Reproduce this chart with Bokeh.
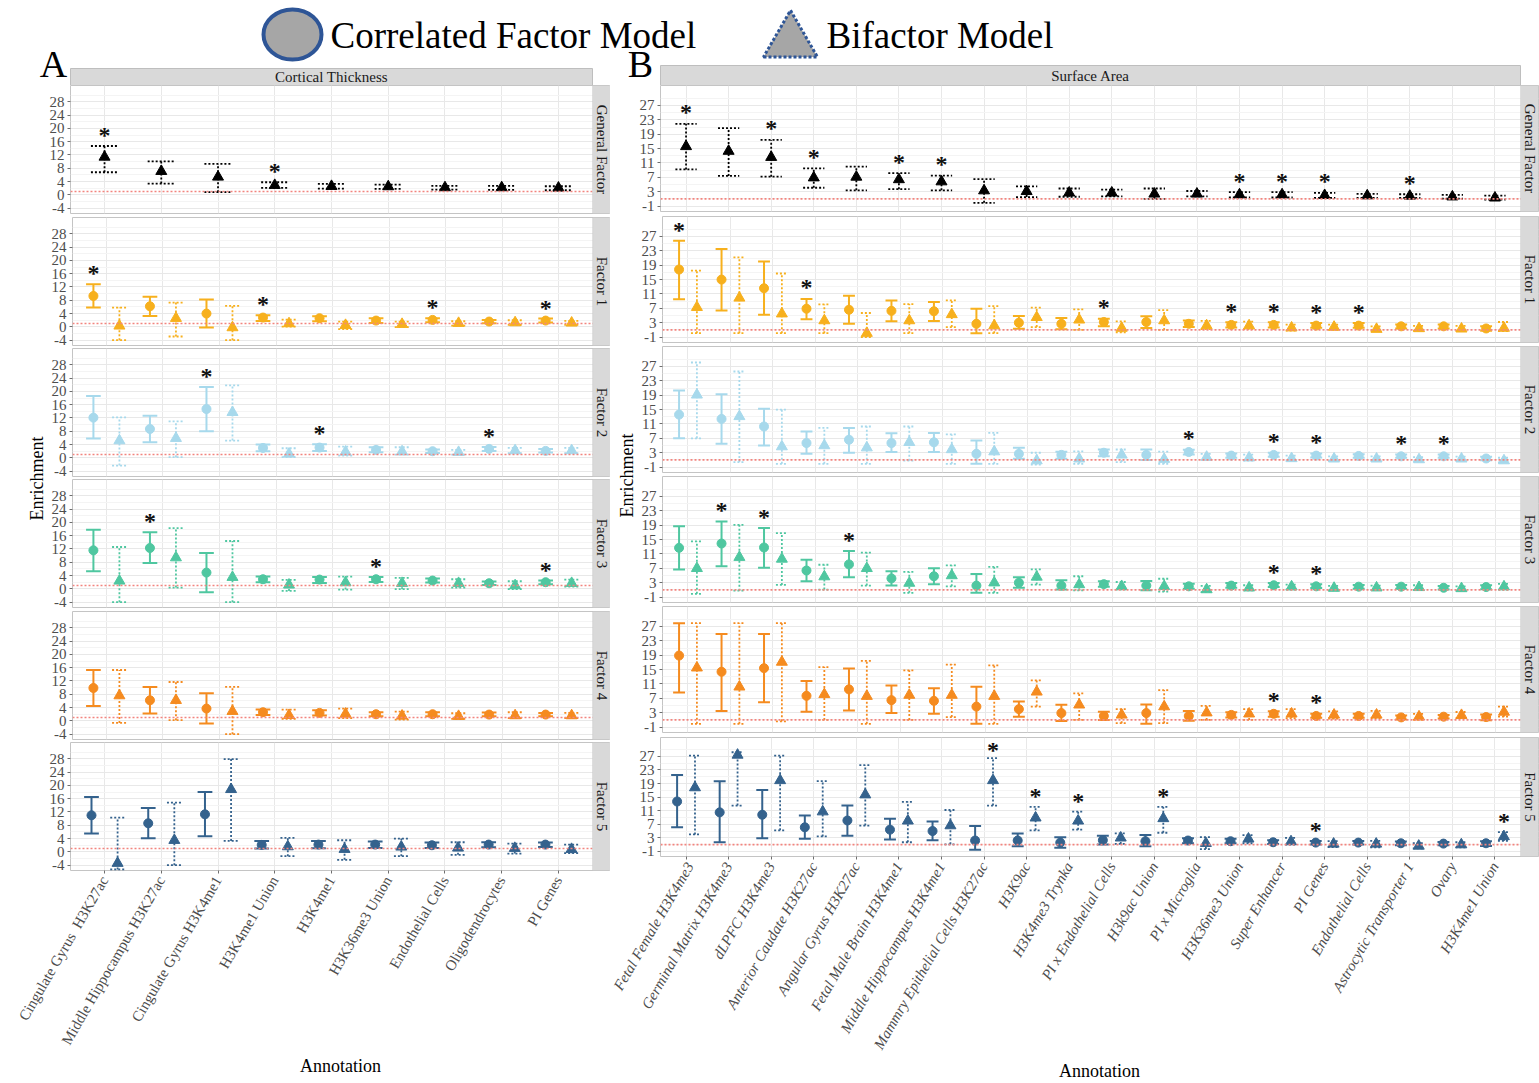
import math
from bokeh.plotting import figure
from bokeh.models import Range1d, FixedTicker, Label, BoxAnnotation, ColumnDataSource, Span
from bokeh.layouts import row, column
from bokeh.embed import file_html
from bokeh.resources import INLINE
from bokeh.core.properties import value

# ------------------------------------------------------------------ data
FACTORS = ["General Factor", "Factor 1", "Factor 2", "Factor 3", "Factor 4", "Factor 5"]
FACTOR_COLORS = ["#000000", "#F7B01D", "#A7D9EC", "#4FC7A0", "#F58B1F", "#34628D"]

# Cortical thickness annotations (x axis of panel A)
CT_ANNOT = ["Cingulate Gyrus\u00a0\u00a0H3K27ac", "Middle Hippocampus H3K27ac", "Cingulate Gyrus H3K4me1",
            "H3K4me1 Union", "H3K4me1", "H3K36me3 Union", "Endothelial Cells",
            "Oligodendrocytes", "PI Genes"]

# (enrichment, lower CI, upper CI) per annotation
CT_GF_BI = [(11.4, 6.8, 14.7), (7.1, 3.4, 10.1), (5.4, 0.8, 9.3), (2.9, 2.1, 3.8), (2.6, 1.9, 3.3),
            (2.5, 1.8, 3.1), (2.2, 1.6, 2.7), (2.2, 1.5, 2.7), (2.1, 1.4, 2.6)]
CT_GF_BI_SIG = [1, 4]

CT_F1_CORR = [(9.3, 5.8, 12.8), (6.2, 3.3, 9.1), (4.0, -0.2, 8.2), (2.8, 1.8, 3.5), (2.6, 1.7, 3.2),
              (1.9, 1.2, 2.6), (2.1, 1.4, 2.6), (1.6, 1.1, 2.1), (1.9, 1.3, 2.5)]
CT_F1_BI = [(0.3, -4.0, 5.8), (2.6, -2.9, 7.3), (-0.2, -4.0, 6.3), (1.0, 0.1, 2.2), (0.5, -0.7, 1.6),
            (0.8, -0.1, 1.6), (1.1, 0.4, 1.7), (1.3, 0.6, 2.0), (1.2, 0.6, 1.8)]
CT_F1_CORR_SIG = [1, 4, 7, 9]

CT_F2_CORR = [(12.1, 5.8, 18.6), (8.7, 4.7, 12.7), (14.7, 8.0, 21.3), (3.0, 2.0, 4.0), (3.1, 2.1, 4.1),
              (2.4, 1.7, 3.2), (2.0, 1.5, 2.5), (2.7, 2.1, 3.3), (2.1, 1.6, 2.7)]
CT_F2_BI = [(5.2, -2.3, 12.2), (5.9, 0.2, 11.0), (13.7, 5.2, 21.8), (1.2, 0.2, 2.9), (1.8, 0.7, 3.4),
            (1.9, 1.0, 3.2), (1.7, 1.0, 2.4), (2.2, 1.4, 3.0), (2.2, 1.4, 3.0)]
CT_F2_CORR_SIG = [3, 5, 8]

CT_F3_CORR = [(11.6, 5.3, 17.8), (12.3, 7.8, 17.0), (4.9, -1.0, 10.8), (2.9, 2.0, 3.7), (2.8, 1.8, 3.6),
              (2.9, 2.1, 3.6), (2.5, 1.9, 3.1), (1.7, 1.2, 2.2), (2.0, 1.4, 2.5)]
CT_F3_BI = [(2.4, -4.0, 12.6), (9.4, 0.4, 18.3), (3.5, -4.0, 14.4), (1.2, -0.6, 2.7), (1.9, -0.2, 3.7),
            (1.7, -0.1, 3.3), (1.7, 0.4, 2.9), (1.0, -0.1, 2.3), (1.7, 0.7, 2.8)]
CT_F3_CORR_SIG = [2, 6, 9]

CT_F4_CORR = [(9.9, 4.5, 15.3), (6.2, 2.2, 10.2), (3.7, -0.8, 8.3), (2.6, 1.8, 3.4), (2.4, 1.6, 3.2),
              (2.0, 1.4, 2.6), (2.0, 1.4, 2.6), (1.9, 1.4, 2.5), (1.9, 1.4, 2.4)]
CT_F4_BI = [(7.6, -0.6, 15.3), (6.2, 0.2, 11.7), (2.9, -4.0, 10.2), (1.7, 0.6, 3.4), (2.1, 0.8, 3.7),
            (1.5, 0.4, 2.8), (1.4, 0.6, 2.3), (1.6, 0.8, 2.6), (1.6, 0.8, 2.4)]

CT_F5_CORR = [(11.0, 5.5, 16.5), (8.6, 4.1, 13.2), (11.3, 4.7, 18.0), (2.1, 1.0, 3.3), (2.2, 1.1, 3.3),
              (2.2, 1.2, 3.1), (2.0, 1.2, 2.8), (2.2, 1.4, 2.9), (2.2, 1.5, 2.8)]
CT_F5_BI = [(-3.4, -5.3, 10.3), (3.5, -4.0, 14.8), (18.8, 3.3, 27.9), (1.6, -1.3, 4.2), (0.8, -2.4, 3.5),
            (1.5, -1.3, 4.0), (1.2, -0.9, 2.9), (1.1, -0.5, 2.5), (0.8, -0.4, 2.2)]

# Surface area annotations (x axis of panel B)
SA_ANNOT = ["Fetal Female H3K4me3", "Germinal Matrix H3K4me3", "dLPFC H3K4me3", "Anterior Caudate H3K27ac",
            "Angular Gyrus H3K27ac", "Fetal Male Brain H3K4me1", "Middle Hippocampus H3K4me1",
            "Mammry Epithelial Cells H3K27ac", "H3K9ac", "H3K4me3 Trynka", "PI x Endothelial Cells",
            "H3k9ac Union", "PI x Microglia", "H3K36me3 Union", "Super Enhancer", "PI Genes",
            "Endothelial Cells", "Astrocytic Transporter 1", "Ovary", "H3K4me1 Union"]

SA_GF_BI = [(15.6, 9.2, 21.9), (14.3, 7.4, 20.7), (12.6, 7.2, 17.4), (6.9, 4.1, 9.5), (7.1, 3.4, 10.0),
            (6.4, 3.7, 8.2), (5.8, 3.4, 7.5), (3.3, -0.1, 6.5), (3.1, 1.5, 4.5), (2.7, 1.6, 3.9),
            (2.7, 1.7, 3.6), (2.4, 1.0, 3.9), (2.4, 1.7, 3.2), (2.2, 1.4, 2.9), (2.2, 1.4, 2.9),
            (2.0, 1.3, 2.7), (1.9, 1.3, 2.4), (1.8, 1.3, 2.3), (1.6, 1.1, 2.1), (1.3, 0.8, 1.9)]
SA_GF_BI_SIG = [1, 3, 4, 6, 7, 14, 15, 16, 18]

SA_F1_CORR = [(17.8, 9.5, 25.8), (15.0, 6.4, 23.5), (12.6, 5.2, 20.0), (6.9, 4.0, 9.6), (6.6, 2.7, 10.5),
              (6.3, 3.4, 9.2), (6.2, 3.5, 8.8), (2.7, 0.1, 6.9), (3.0, 1.3, 4.9), (2.7, 1.2, 4.3),
              (3.2, 2.0, 4.1), (3.2, 1.5, 4.8), (2.7, 1.8, 3.6), (2.4, 1.7, 3.1), (2.4, 1.7, 3.1),
              (2.2, 1.6, 2.9), (2.2, 1.6, 2.9), (2.0, 1.4, 2.5), (2.0, 1.4, 2.5), (1.4, 0.8, 2.0)]
SA_F1_BI = [(7.3, 0.1, 17.5), (9.9, 0.1, 21.2), (5.5, 0.1, 16.7), (3.6, 0.1, 8.1), (0.1, -1.0, 5.7),
            (3.6, 0.1, 8.2), (5.3, 1.8, 9.2), (2.2, 0.1, 7.6), (4.5, 1.8, 7.2), (3.8, 1.0, 6.7),
            (1.5, 0.3, 3.4), (3.6, 1.0, 6.5), (2.2, 1.2, 3.5), (2.2, 1.2, 3.3), (1.6, 0.8, 2.5),
            (1.8, 1.0, 2.5), (1.2, 0.7, 2.0), (1.4, 0.8, 2.1), (1.3, 0.7, 2.1), (1.5, 0.7, 3.2)]
SA_F1_CORR_SIG = [1, 4, 11, 14, 15, 16, 17]

SA_F2_CORR = [(13.6, 7.0, 20.3), (12.4, 5.5, 19.3), (10.3, 5.0, 15.2), (5.7, 2.7, 8.9), (6.6, 3.0, 9.9),
              (5.7, 3.2, 8.4), (5.9, 3.2, 8.5), (2.7, -0.1, 6.4), (2.7, 1.3, 4.4), (2.4, 1.3, 3.3),
              (3.0, 2.0, 3.9), (2.4, 1.0, 3.9), (3.2, 2.5, 3.8), (2.2, 1.6, 2.8), (2.4, 1.9, 3.0),
              (2.2, 1.7, 2.8), (2.1, 1.6, 2.6), (2.0, 1.6, 2.5), (2.0, 1.6, 2.5), (1.4, 0.9, 1.9)]
SA_F2_BI = [(19.1, 7.0, 28.1), (13.1, 0.4, 25.6), (4.7, -0.1, 15.0), (5.0, -0.1, 9.9), (4.4, -0.1, 10.3),
            (5.9, 0.8, 10.3), (3.9, -0.1, 8.1), (3.3, -0.1, 8.5), (0.8, -0.3, 3.0), (1.3, -0.1, 3.4),
            (2.4, 0.4, 3.9), (1.2, -0.1, 3.3), (1.8, 1.0, 2.7), (1.6, 0.8, 2.5), (1.4, 0.8, 2.2),
            (1.3, 0.7, 2.0), (1.3, 0.7, 2.0), (1.1, 0.6, 1.8), (1.3, 0.7, 1.9), (0.8, 0.3, 1.6)]
SA_F2_CORR_SIG = [13, 15, 16, 18, 19]

SA_F3_CORR = [(12.7, 6.7, 18.7), (13.9, 7.6, 20.0), (12.8, 7.2, 18.2), (6.4, 3.4, 9.4), (8.1, 4.5, 11.8),
              (4.2, 2.2, 6.2), (4.8, 2.6, 7.0), (2.2, 0.2, 5.4), (3.0, 1.6, 4.5), (2.2, 1.1, 3.7),
              (2.6, 1.9, 3.4), (2.2, 0.9, 3.5), (2.0, 1.3, 2.7), (2.2, 1.6, 2.9), (2.3, 1.8, 2.9),
              (2.0, 1.5, 2.6), (1.9, 1.3, 2.4), (1.9, 1.3, 2.4), (1.6, 1.1, 2.1), (1.8, 1.2, 2.3)]
SA_F3_BI = [(7.0, -0.1, 14.5), (10.1, 0.8, 19.1), (9.6, 2.4, 16.8), (4.7, 1.1, 8.0), (7.0, 2.2, 11.4),
            (2.9, 0.2, 6.0), (5.0, 2.0, 7.8), (3.0, 0.2, 7.4), (4.6, 2.5, 6.7), (2.5, 0.9, 4.8),
            (2.0, 1.1, 3.2), (2.0, 0.5, 4.1), (1.1, 0.4, 2.1), (1.6, 0.9, 2.3), (1.9, 1.1, 2.5),
            (1.5, 0.9, 2.1), (1.6, 1.0, 2.2), (1.7, 1.0, 2.3), (1.4, 0.8, 2.0), (1.9, 1.1, 2.7)]
SA_F3_CORR_SIG = [2, 3, 5, 15, 16]

SA_F4_CORR = [(18.9, 8.6, 27.9), (14.4, 3.5, 24.9), (15.4, 5.9, 24.9), (7.7, 3.3, 11.8), (9.5, 3.6, 15.3),
              (6.5, 2.9, 10.6), (6.3, 2.7, 9.8), (4.7, -0.1, 10.2), (4.0, 1.9, 6.1), (2.9, 0.7, 5.2),
              (2.1, 1.0, 3.3), (2.9, -0.1, 5.3), (2.1, 0.8, 3.5), (2.4, 1.7, 3.1), (2.7, 1.9, 3.4),
              (2.1, 1.6, 2.7), (2.1, 1.6, 2.7), (1.7, 1.1, 2.2), (1.9, 1.4, 2.4), (1.8, 0.9, 2.5)]
SA_F4_BI = [(15.5, -0.1, 27.9), (10.2, -0.1, 27.9), (17.1, 0.6, 27.9), (8.1, 1.0, 15.7), (7.6, -0.1, 17.4),
            (7.9, 1.0, 14.8), (7.9, 1.8, 16.4), (7.6, -0.1, 16.2), (8.8, 4.7, 12.0), (5.2, 1.0, 8.4),
            (2.4, 0.1, 4.0), (4.7, 0.1, 9.3), (3.0, 1.0, 4.9), (2.7, 1.0, 4.0), (2.7, 1.5, 4.0),
            (2.4, 1.4, 3.4), (2.4, 1.5, 3.5), (1.9, 1.0, 2.7), (2.3, 1.5, 3.2), (3.2, 1.9, 4.7)]
SA_F4_CORR_SIG = [15, 16]

SA_F5_CORR = [(13.7, 6.1, 21.5), (10.5, 1.7, 19.7), (9.8, 2.9, 17.1), (6.1, 2.7, 9.6), (8.1, 3.6, 12.5),
              (5.4, 2.5, 8.6), (5.0, 2.3, 7.8), (2.2, -0.5, 6.5), (2.2, 0.5, 4.3), (1.6, 0.1, 3.2),
              (2.3, 1.0, 3.6), (2.0, 0.5, 3.8), (2.2, 1.4, 2.9), (2.0, 1.4, 2.7), (1.7, 1.2, 2.3),
              (1.6, 1.0, 2.1), (1.6, 1.0, 2.1), (1.4, 0.8, 1.9), (1.3, 0.8, 1.8), (1.4, 0.6, 2.0)]
SA_F5_BI = [(17.8, 4.0, 27.2), (27.4, 12.5, 28.2), (19.9, 5.2, 27.2), (10.7, 3.4, 19.7), (15.7, 6.6, 24.4),
            (8.0, 1.7, 13.6), (6.6, 1.1, 11.2), (19.9, 12.5, 26.5), (8.9, 5.2, 12.1), (8.0, 5.4, 10.7),
            (3.0, 1.2, 4.3), (8.7, 4.5, 12.1), (1.4, -0.3, 3.2), (2.7, 1.4, 3.8), (1.9, 1.0, 3.0),
            (1.2, 0.3, 2.0), (1.2, 0.2, 2.1), (0.6, -0.1, 1.4), (1.0, 0.2, 1.7), (3.4, 2.1, 4.7)]
SA_F5_CORR_SIG = [16]
SA_F5_BI_SIG = [8, 9, 10, 12, 20]

CT_CORR = [None, CT_F1_CORR, CT_F2_CORR, CT_F3_CORR, CT_F4_CORR, CT_F5_CORR]
CT_BI = [CT_GF_BI, CT_F1_BI, CT_F2_BI, CT_F3_BI, CT_F4_BI, CT_F5_BI]
CT_CORR_SIG = [[], CT_F1_CORR_SIG, CT_F2_CORR_SIG, CT_F3_CORR_SIG, [], []]
CT_BI_SIG = [CT_GF_BI_SIG, [], [], [], [], []]

SA_CORR = [None, SA_F1_CORR, SA_F2_CORR, SA_F3_CORR, SA_F4_CORR, SA_F5_CORR]
SA_BI = [SA_GF_BI, SA_F1_BI, SA_F2_BI, SA_F3_BI, SA_F4_BI, SA_F5_BI]
SA_CORR_SIG = [[], SA_F1_CORR_SIG, SA_F2_CORR_SIG, SA_F3_CORR_SIG, SA_F4_CORR_SIG, SA_F5_CORR_SIG]
SA_BI_SIG = [SA_GF_BI_SIG, [], [], [], [], SA_F5_BI_SIG]

# ------------------------------------------------------------------ style
SERIF = "Liberation Serif"
STRIP_FILL = "#D9D9D9"
STRIP_LINE = "#BEBEBE"
PANEL_LINE = "#C4C4C4"
GRID_MAJOR = "#E8E8E8"
GRID_MINOR = "#F4F4F4"
TICK_TEXT = "#4D4D4D"
REF_LINE = "#F2857F"
STAR_PX = 24
PAGE_W, PAGE_H, HEADER_H = 1539, 1083, 85

PANEL_A = dict(name="Cortical Thickness", letter="A", annot=CT_ANNOT,
               corr=CT_CORR, bi=CT_BI, corr_sig=CT_CORR_SIG, bi_sig=CT_BI_SIG,
               col_left=0, col_w=610, deco_w=48, frame_left=70, frame_right=592, strip_w=18,
               strip_top=68, tops=[85, 217, 348, 479, 611, 742], frame_h=128,
               xr=(0.4, 9.6), yr=(-5.6, 32.9), yticks=list(range(-4, 29, 4)),
               yminor=list(range(-6, 31, 4)), dodge=0.23, cap=0.13, cap_gf=0.24, star=3.3,
               italic=False, letter_xy=(53, 84), enrich_xy=(36, 478))
PANEL_B = dict(name="Surface Area", letter="B", annot=SA_ANNOT,
               corr=SA_CORR, bi=SA_BI, corr_sig=SA_CORR_SIG, bi_sig=SA_BI_SIG,
               col_left=610, col_w=929, deco_w=28, frame_left=660, frame_right=1520, strip_w=18,
               strip_top=65, tops=[85, 216, 346, 476, 606, 737], frame_h=126,
               xr=(0.4, 20.6), yr=(-2.5, 32.55), yticks=list(range(-1, 28, 4)),
               yminor=list(range(-3, 32, 4)), dodge=0.21, cap=0.14, cap_gf=0.25, star=3.2,
               italic=True, letter_xy=(640, 84), enrich_xy=(626, 475))


def deco_fig(w, h):
    p = figure(width=w, height=h, x_range=Range1d(0, w), y_range=Range1d(0, h),
               output_backend="svg", toolbar_location=None, title=None,
               x_axis_location=None, y_axis_location=None,
               min_border_left=0, min_border_right=0, min_border_top=0, min_border_bottom=0)
    p.grid.visible = False
    p.outline_line_color = None
    p.background_fill_color = "white"
    p.border_fill_color = "white"
    return p


def draw_series(p, data, offset, cap, color, marker, dashed, sig, star_off, star_max):
    xs = [i + 1 + offset for i in range(len(data))]
    est = [d[0] for d in data]
    lo = [d[1] for d in data]
    hi = [d[2] for d in data]
    src = ColumnDataSource(dict(x=xs, est=est, lo=lo, hi=hi,
                                xl=[x - cap for x in xs], xr=[x + cap for x in xs]))
    dash = "2 2" if dashed else "solid"
    lw = 1.8 if dashed else 2.0
    p.segment(x0="x", y0="lo", x1="x", y1="hi", source=src, line_color=color, line_width=lw, line_dash=dash)
    p.segment(x0="xl", y0="lo", x1="xr", y1="lo", source=src, line_color=color, line_width=lw, line_dash=dash)
    p.segment(x0="xl", y0="hi", x1="xr", y1="hi", source=src, line_color=color, line_width=lw, line_dash=dash)
    p.scatter(x="x", y="est", source=src, marker=marker, size=11 if marker == "triangle" else 9,
              fill_color=color, line_color=color)
    if sig:
        # significance stars sit just above the upper CI, kept inside the panel
        ssrc = ColumnDataSource(dict(x=[xs[i - 1] for i in sig],
                                     y=[min(hi[i - 1] + star_off, star_max) for i in sig],
                                     t=["*"] * len(sig)))
        p.text(x="x", y="y", text="t", source=ssrc, text_font=value(SERIF), text_font_size=f"{STAR_PX}px",
               text_font_style="bold", text_color="#111111", text_align="center", text_baseline="middle")


def facet(P, k, canvas_left):
    fl, fr, fh = P["frame_left"], P["frame_right"], P["frame_h"]
    tops = P["tops"]
    x0, x1 = P["xr"]
    y0, y1 = P["yr"]
    kx = (fr - fl) / (x1 - x0)
    ky = fh / (y1 - y0)
    sw = P["strip_w"] / kx
    x1e = x1 + sw                       # the frame also carries the facet strip
    star_max = y1 - (STAR_PX / 2 + 1) / ky
    bot_b = (tops[k + 1] if k < 5 else PAGE_H) - (tops[k] + fh)
    right_b = P["col_left"] + P["col_w"] - (fr + P["strip_w"])
    left_b = fl - canvas_left
    width = P["col_left"] + P["col_w"] - canvas_left
    p = figure(width=width, height=fh + bot_b,
               x_range=Range1d(x0, x1e), y_range=Range1d(y0, y1),
               output_backend="svg", toolbar_location=None, title=None,
               x_axis_location="below" if k == 5 else None, y_axis_location="left",
               min_border_left=left_b, min_border_right=right_b,
               min_border_top=0, min_border_bottom=bot_b)
    p.background_fill_color = "white"
    p.border_fill_color = "white"
    p.outline_line_color = PANEL_LINE
    p.outline_line_width = 1

    n = len(P["annot"])
    cats = list(range(1, n + 1))
    p.xgrid.ticker = FixedTicker(ticks=cats)
    p.xgrid.grid_line_color = GRID_MAJOR
    yt = FixedTicker(ticks=P["yticks"], minor_ticks=P["yminor"])
    p.ygrid.ticker = yt
    p.ygrid.grid_line_color = GRID_MAJOR
    p.ygrid.minor_grid_line_color = GRID_MINOR

    ax = p.yaxis[0]
    ax.ticker = yt
    ax.major_label_overrides = {t: str(t) for t in P["yticks"]}
    ax.axis_line_color = None
    ax.major_tick_line_color = "#6E6E6E"
    ax.major_tick_out = 3
    ax.major_tick_in = 0
    ax.minor_tick_line_color = None
    ax.major_label_standoff = 2
    ax.major_label_text_font = SERIF
    ax.major_label_text_font_size = "15px"
    ax.major_label_text_color = TICK_TEXT

    # reference line at enrichment = 1
    p.add_layout(Span(location=1, dimension="width", line_color=REF_LINE, line_dash="2 2", line_width=1.6))

    color = FACTOR_COLORS[k]
    if k == 0:
        draw_series(p, P["bi"][0], 0.0, P["cap_gf"], color, "triangle", True, P["bi_sig"][0],
                    P["star"], star_max)
    else:
        draw_series(p, P["corr"][k], -P["dodge"], P["cap"], color, "circle", False, P["corr_sig"][k],
                    P["star"], star_max)
        draw_series(p, P["bi"][k], P["dodge"], P["cap"], color, "triangle", True, P["bi_sig"][k],
                    P["star"], star_max)

    # facet strip on the right edge of the frame
    p.add_layout(BoxAnnotation(left=x1, right=x1e, bottom=y0, top=y1, fill_color=STRIP_FILL,
                               fill_alpha=1.0, line_color=STRIP_LINE, line_width=1))
    p.add_layout(Label(x=x1 + sw / 2, y=(y0 + y1) / 2, text=FACTORS[k], angle=-math.pi / 2,
                       text_align="center", text_baseline="middle", text_font=SERIF,
                       text_font_size="15px", text_color="#1A1A1A"))

    if k == 5:
        xa = p.xaxis[0]
        xa.ticker = FixedTicker(ticks=cats)
        xa.major_label_overrides = {i + 1: lab for i, lab in enumerate(P["annot"])}
        xa.major_label_orientation = math.pi / 3
        xa.axis_line_color = None
        xa.major_tick_line_color = "#6E6E6E"
        xa.major_tick_out = 3
        xa.major_tick_in = 0
        xa.minor_tick_line_color = None
        xa.major_label_standoff = 4
        xa.major_label_text_font = SERIF
        xa.major_label_text_font_size = "15px"
        xa.major_label_text_color = TICK_TEXT
        if P["italic"]:
            xa.major_label_text_font_style = "italic"
        xa.axis_label = "Annotation"
        xa.axis_label_standoff = 2
        xa.axis_label_text_font = SERIF
        xa.axis_label_text_font_size = "18px"
        xa.axis_label_text_font_style = "normal"
        xa.axis_label_text_color = "black"
    return p


def panel(P):
    left = P["col_left"]
    gf = facet(P, 0, left)
    mids = [facet(P, k, left + P["deco_w"]) for k in range(1, 5)]
    bottom = facet(P, 5, left)
    deco_h = P["tops"][5] - P["tops"][1]
    deco = deco_fig(P["deco_w"], deco_h)
    ex, ey = P["enrich_xy"]
    deco.text(x=[ex - left], y=[deco_h - (ey - P["tops"][1])], text=["Enrichment"], angle=math.pi / 2,
              text_align="center", text_baseline="middle", text_font=value(SERIF),
              text_font_size="18px", text_color="black")
    return column(gf, row(deco, column(*mids, spacing=0), spacing=0), bottom, spacing=0)


# ------------------------------------------------------------------ header: legend, panel letters, top strips
header = deco_fig(PAGE_W, HEADER_H)


def hy(py):
    return HEADER_H - py


header.ellipse(x=[292], y=[hy(34)], width=[58], height=[50], fill_color="#A6A6A6",
               line_color="#2E5596", line_width=4)
header.text(x=[330], y=[hy(35)], text=["Correlated Factor Model"], text_font=value(SERIF),
            text_font_size="37px", text_align="left", text_baseline="middle", text_color="black")
header.scatter(x=[790], y=[hy(41)], marker="triangle", size=54, fill_color="#A6A6A6",
               line_color="#2E5596", line_width=3, line_dash="3 2")
header.text(x=[826], y=[hy(35)], text=["Bifactor Model"], text_font=value(SERIF),
            text_font_size="37px", text_align="left", text_baseline="middle", text_color="black")

for P in (PANEL_A, PANEL_B):
    header.quad(left=[P["frame_left"]], right=[P["frame_right"]], top=[hy(P["strip_top"])],
                bottom=[hy(P["tops"][0])], fill_color=STRIP_FILL, line_color=STRIP_LINE, line_width=1)
    header.text(x=[(P["frame_left"] + P["frame_right"]) / 2], y=[hy((P["strip_top"] + P["tops"][0]) / 2)],
                text=[P["name"]], text_font=value(SERIF), text_font_size="15px", text_color="#1A1A1A",
                text_align="center", text_baseline="middle")
    header.text(x=[P["letter_xy"][0]], y=[hy(P["letter_xy"][1])], text=[P["letter"]], text_font=value(SERIF),
                text_font_size="38px", text_color="black", text_align="center", text_baseline="bottom")

layout = column(header, row(panel(PANEL_A), panel(PANEL_B), spacing=0), spacing=0)

with open("out.html", "w") as f:
    f.write(file_html(layout, INLINE, title="Partitioned enrichment"))
